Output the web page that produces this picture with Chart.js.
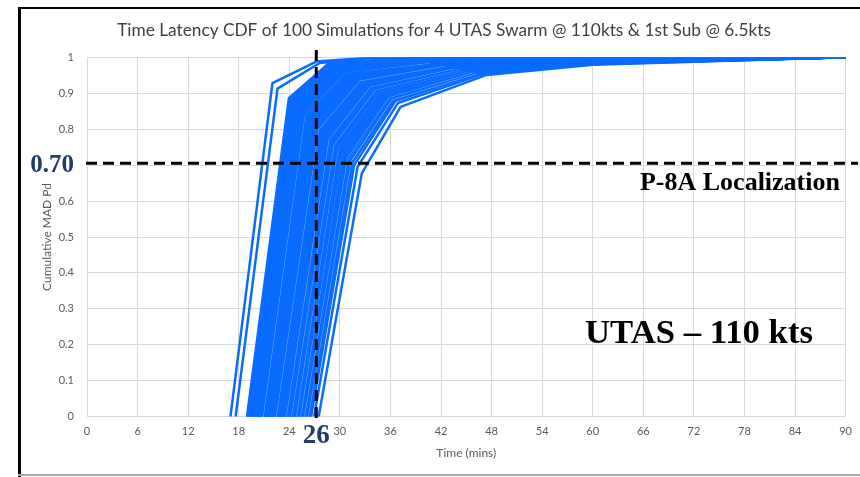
<!DOCTYPE html>
<html>
<head>
<meta charset="utf-8">
<script src="https://cdn.jsdelivr.net/npm/chart.js@4/dist/chart.umd.min.js"></script>
<style>
  html, body { margin: 0; padding: 0; background: #fff; }
</style>
</head>
<body>
<canvas id="chart" width="860" height="477"></canvas>
<script>
// One row per simulation (sorted by start time)
const startMin = [
  17.02, 17.63, 18.98, 19.05, 19.14, 19.22, 19.27, 19.38, 19.45, 19.51,
  19.6, 19.64, 19.73, 19.8, 19.89, 19.95, 20.01, 20.12, 20.16, 20.24,
  20.31, 20.4, 20.43, 20.52, 20.6, 20.63, 20.74, 20.8, 20.86, 20.97,
  21.02, 21.1, 21.19, 21.23, 21.33, 21.38, 21.47, 21.55, 21.58, 21.69,
  21.75, 21.81, 21.92, 21.97, 22.05, 22.13, 22.18, 22.29, 22.35, 22.41,
  22.5, 22.56, 22.64, 22.72, 22.79, 22.85, 22.96, 23.01, 23.09, 23.16,
  23.24, 23.31, 23.37, 23.48, 23.55, 23.6, 23.71, 23.77, 23.86, 23.92,
  24.03, 24.08, 24.17, 24.26, 24.31, 24.42, 24.49, 24.55, 24.66, 24.71,
  24.83, 24.9, 24.98, 25.09, 25.17, 25.24, 25.36, 25.43, 25.55, 25.63,
  25.74, 25.85, 25.96, 26.08, 26.19, 26.31, 26.45, 26.58, 26.93, 27.48
]
const kneeMin = [
  22.0, 22.6, 23.95, 24.1, 24.1, 24.25, 24.2, 24.4, 24.4, 24.55,
  24.55, 24.7, 24.7, 24.85, 24.85, 25.0, 24.95, 25.15, 25.1, 25.3,
  25.3, 25.45, 25.4, 25.55, 25.55, 25.7, 25.7, 25.85, 25.8, 26.0,
  25.95, 26.15, 26.15, 26.3, 26.3, 26.45, 26.4, 26.6, 26.55, 26.75,
  26.7, 26.9, 26.85, 27.05, 27.0, 27.2, 27.15, 27.35, 27.3, 27.5,
  27.45, 27.65, 27.6, 27.8, 27.75, 27.95, 27.9, 28.1, 28.05, 28.25,
  28.2, 28.4, 28.35, 28.55, 28.5, 28.7, 28.65, 28.85, 28.85, 29.0,
  29.0, 29.15, 29.15, 29.35, 29.3, 29.5, 29.5, 29.65, 29.65, 29.8,
  29.8, 30.0, 29.95, 30.2, 30.15, 30.35, 30.35, 30.55, 30.55, 30.75,
  30.75, 30.95, 30.95, 31.2, 31.2, 31.45, 31.5, 31.7, 32.1, 32.6
]
const kneePd = [
  0.928, 0.913, 0.886, 0.879, 0.882, 0.874, 0.878, 0.871, 0.875, 0.868,
  0.87, 0.864, 0.867, 0.86, 0.863, 0.857, 0.861, 0.853, 0.857, 0.851,
  0.853, 0.846, 0.85, 0.843, 0.846, 0.841, 0.843, 0.837, 0.84, 0.833,
  0.836, 0.83, 0.833, 0.826, 0.829, 0.823, 0.826, 0.819, 0.823, 0.815,
  0.819, 0.812, 0.815, 0.809, 0.812, 0.805, 0.809, 0.801, 0.805, 0.798,
  0.801, 0.795, 0.798, 0.791, 0.794, 0.788, 0.79, 0.784, 0.787, 0.78,
  0.783, 0.777, 0.78, 0.773, 0.776, 0.77, 0.772, 0.766, 0.769, 0.762,
  0.765, 0.758, 0.761, 0.754, 0.758, 0.75, 0.754, 0.747, 0.75, 0.743,
  0.746, 0.739, 0.742, 0.735, 0.738, 0.731, 0.733, 0.726, 0.729, 0.722,
  0.724, 0.717, 0.719, 0.712, 0.714, 0.706, 0.708, 0.7, 0.695, 0.677
]
const midMin = [
  27.2, 27.6, 28.8, 29.0, 28.9, 29.1, 29.1, 29.3, 29.2, 29.5,
  29.4, 29.6, 29.6, 29.8, 29.7, 29.9, 29.9, 30.1, 30.0, 30.2,
  30.2, 30.4, 30.3, 30.5, 30.4, 30.6, 30.6, 30.8, 30.7, 30.9,
  30.9, 31.1, 31.0, 31.2, 31.2, 31.4, 31.3, 31.5, 31.5, 31.7,
  31.6, 31.8, 31.8, 32.0, 31.9, 32.1, 32.1, 32.3, 32.2, 32.4,
  32.4, 32.6, 32.5, 32.7, 32.7, 32.9, 32.8, 33.0, 33.0, 33.2,
  33.1, 33.3, 33.3, 33.5, 33.4, 33.6, 33.6, 33.8, 33.8, 34.0,
  33.9, 34.1, 34.1, 34.3, 34.2, 34.4, 34.4, 34.6, 34.6, 34.8,
  34.8, 35.0, 34.9, 35.2, 35.1, 35.3, 35.3, 35.5, 35.5, 35.7,
  35.7, 35.9, 35.9, 36.1, 36.1, 36.4, 36.4, 36.6, 36.9, 37.2
]
const midPd = [
  0.988, 0.984, 0.986, 0.982, 0.984, 0.98, 0.983, 0.978, 0.981, 0.976,
  0.978, 0.974, 0.976, 0.972, 0.974, 0.97, 0.972, 0.968, 0.97, 0.966,
  0.968, 0.964, 0.966, 0.962, 0.964, 0.96, 0.962, 0.958, 0.96, 0.956,
  0.958, 0.954, 0.956, 0.952, 0.954, 0.95, 0.952, 0.948, 0.95, 0.946,
  0.948, 0.944, 0.946, 0.942, 0.944, 0.94, 0.942, 0.938, 0.94, 0.936,
  0.938, 0.934, 0.936, 0.932, 0.934, 0.93, 0.932, 0.928, 0.93, 0.926,
  0.927, 0.923, 0.925, 0.921, 0.923, 0.919, 0.921, 0.917, 0.919, 0.915,
  0.916, 0.912, 0.914, 0.91, 0.912, 0.908, 0.91, 0.906, 0.908, 0.904,
  0.904, 0.9, 0.902, 0.898, 0.9, 0.896, 0.897, 0.893, 0.895, 0.891,
  0.892, 0.888, 0.889, 0.885, 0.886, 0.882, 0.883, 0.879, 0.873, 0.862
]
const lateMin = [
  33.0, 33.5, 38.8, 39.1, 38.8, 39.2, 39.0, 39.4, 39.1, 39.6,
  39.4, 39.7, 39.5, 39.9, 39.6, 40.0, 39.8, 40.2, 39.9, 40.3,
  40.2, 40.5, 40.2, 40.6, 40.3, 40.7, 40.5, 40.9, 40.6, 41.0,
  40.9, 41.2, 40.9, 41.3, 41.1, 41.5, 41.2, 41.6, 41.4, 41.8,
  41.6, 41.9, 41.7, 42.1, 41.8, 42.2, 42.0, 42.4, 42.1, 42.5,
  42.4, 42.7, 42.4, 42.8, 42.6, 43.0, 42.7, 43.1, 42.9, 43.3,
  43.1, 43.4, 43.2, 43.6, 43.3, 43.7, 43.5, 43.9, 43.7, 44.1,
  43.9, 44.2, 44.0, 44.4, 44.1, 44.5, 44.3, 44.7, 44.5, 44.9,
  44.8, 45.1, 44.8, 45.3, 45.0, 45.4, 45.2, 45.6, 45.4, 45.8,
  45.7, 46.0, 45.8, 46.2, 46.0, 46.5, 46.3, 46.7, 47.0, 47.4
]
const latePd = [
  0.998, 0.998, 0.997, 0.997, 0.996, 0.996, 0.996, 0.995, 0.995, 0.994,
  0.994, 0.993, 0.993, 0.993, 0.992, 0.992, 0.991, 0.991, 0.991, 0.99,
  0.99, 0.989, 0.989, 0.988, 0.988, 0.988, 0.987, 0.987, 0.987, 0.986,
  0.986, 0.985, 0.985, 0.985, 0.984, 0.984, 0.983, 0.983, 0.983, 0.982,
  0.982, 0.981, 0.981, 0.981, 0.98, 0.98, 0.979, 0.979, 0.979, 0.978,
  0.978, 0.977, 0.977, 0.976, 0.976, 0.976, 0.975, 0.975, 0.975, 0.974,
  0.974, 0.973, 0.973, 0.972, 0.972, 0.972, 0.971, 0.971, 0.97, 0.97,
  0.969, 0.969, 0.969, 0.968, 0.968, 0.967, 0.967, 0.966, 0.966, 0.966,
  0.965, 0.965, 0.964, 0.964, 0.963, 0.963, 0.962, 0.962, 0.961, 0.961,
  0.96, 0.96, 0.959, 0.958, 0.958, 0.957, 0.956, 0.956, 0.954, 0.951
]
const pd60 = [
  1.0, 1.0, 0.999, 0.999, 0.999, 0.999, 0.999, 0.999, 0.999, 0.999,
  0.998, 0.998, 0.998, 0.998, 0.998, 0.998, 0.998, 0.997, 0.997, 0.997,
  0.997, 0.997, 0.997, 0.996, 0.996, 0.996, 0.996, 0.996, 0.996, 0.995,
  0.995, 0.995, 0.995, 0.995, 0.994, 0.994, 0.994, 0.994, 0.994, 0.994,
  0.993, 0.993, 0.993, 0.993, 0.993, 0.992, 0.992, 0.992, 0.992, 0.992,
  0.992, 0.991, 0.991, 0.991, 0.991, 0.991, 0.99, 0.99, 0.99, 0.99,
  0.99, 0.99, 0.99, 0.989, 0.989, 0.989, 0.989, 0.989, 0.988, 0.988,
  0.988, 0.988, 0.988, 0.987, 0.987, 0.987, 0.987, 0.987, 0.986, 0.986,
  0.986, 0.986, 0.986, 0.985, 0.985, 0.985, 0.985, 0.984, 0.984, 0.984,
  0.984, 0.983, 0.983, 0.983, 0.983, 0.982, 0.982, 0.982, 0.981, 0.979
]
const tailMin = 60
const endMin = 90
const endPd = 1

// simulations whose line shows a faint pale edge inside the bundle
const edgedSims = [26, 47, 63, 71, 78, 84, 89, 93]

// reference marks
const refPd = 0.705       // P-8A localization level (labelled 0.70)
const refMin = 27.2       // vertical marker (labelled 26)
const titleText = 'Time Latency CDF of 100 Simulations for 4 UTAS Swarm @ 110kts & 1st Sub @ 6.5kts'

const lineBlue = '#0a6cff'
const navy = '#203b6c'

function fitSize(ctx, text, width, weight, family) {
  ctx.font = `${weight} 100px ${family}`
  return 100 * width / ctx.measureText(text).width
}

const decor = {
  id: 'decor',
  beforeDraw(chart) {
    const { ctx, width, height } = chart
    ctx.save()
    ctx.fillStyle = '#fff'
    ctx.fillRect(0, 0, width, height)
    ctx.fillStyle = '#000'
    ctx.fillRect(18, 7, 3, height - 7)
    ctx.fillRect(18, 7, width - 18, 2)
    ctx.fillStyle = '#a6a6a6'
    ctx.fillRect(18, 474, width - 18, 2)
    ctx.restore()
  },
  beforeDatasetDraw(chart, args) {
    if (!edgedSims.includes(args.index)) return
    const { ctx, chartArea: a } = chart
    const pts = args.meta.data.slice(0, 4)
    ctx.save()
    ctx.beginPath()
    ctx.rect(a.left, a.top - 2, a.right - a.left, a.bottom - a.top + 4)
    ctx.clip()
    ctx.strokeStyle = 'rgba(255,255,255,0.45)'
    ctx.lineWidth = 3.4
    ctx.lineJoin = 'round'
    ctx.beginPath()
    pts.forEach((p, k) => k ? ctx.lineTo(p.x, p.y) : ctx.moveTo(p.x, p.y))
    ctx.stroke()
    ctx.restore()
  },
  afterDatasetsDraw(chart) {
    const { ctx, scales: { x, y } } = chart
    const py = y.getPixelForValue(refPd)
    const px = x.getPixelForValue(refMin)
    ctx.save()
    ctx.strokeStyle = '#000'
    ctx.lineWidth = 3
    ctx.setLineDash([11, 6])
    ctx.beginPath()
    ctx.moveTo(86, py)
    ctx.lineTo(858, py)
    ctx.stroke()
    ctx.beginPath()
    ctx.moveTo(px, 50)
    ctx.lineTo(px, y.getPixelForValue(0) + 2)
    ctx.stroke()
    ctx.setLineDash([])

    const serif = '"Liberation Serif", "DejaVu Serif", serif'
    ctx.textBaseline = 'alphabetic'

    ctx.fillStyle = navy
    ctx.textAlign = 'right'
    ctx.font = `bold 25px ${serif}`
    ctx.fillText('0.70', 74, py + 9)

    ctx.textAlign = 'center'
    ctx.font = `bold 27px ${serif}`
    ctx.fillText('26', px, 443)

    ctx.fillStyle = '#000'
    ctx.textAlign = 'left'
    let s = fitSize(ctx, 'P-8A Localization', 200, 'bold', serif)
    ctx.font = `bold ${s}px ${serif}`
    ctx.fillText('P-8A Localization', 640, 190)

    s = fitSize(ctx, 'UTAS \u2013 110 kts', 228, 'bold', serif)
    ctx.font = `bold ${s}px ${serif}`
    ctx.fillText('UTAS \u2013 110 kts', 585, 343)

    ctx.fillStyle = '#404040'
    ctx.textAlign = 'center'
    ctx.textBaseline = 'middle'
    s = fitSize(ctx, titleText, 654, 'normal', 'Lato')
    ctx.font = `normal ${s}px Lato`
    ctx.fillText(titleText, 444, 30)
    ctx.restore()
  }
}

const datasets = startMin.map((t0, i) => ({
  data: [
    { x: t0, y: 0 },
    { x: kneeMin[i], y: kneePd[i] },
    { x: midMin[i], y: midPd[i] },
    { x: lateMin[i], y: latePd[i] },
    { x: tailMin, y: pd60[i] },
    { x: endMin, y: endPd }
  ],
  borderColor: lineBlue,
  borderWidth: 2.5,
  borderJoinStyle: 'round',
  pointRadius: 0,
  fill: false,
  tension: 0
}))

const tickFont = { family: 'Lato', size: 11 }
const axisTitleFont = { family: 'Lato', size: 12 }

new Chart(document.getElementById('chart'), {
  type: 'line',
  data: { datasets },
  options: {
    responsive: false,
    animation: false,
    layout: { padding: { top: 57.3, right: 13.3, bottom: 0, left: 0 } },
    plugins: {
      legend: { display: false },
      tooltip: { enabled: false },
      title: { display: false }
    },
    scales: {
      x: {
        type: 'linear',
        min: 0,
        max: 90,
        ticks: { stepSize: 6, color: '#595959', font: tickFont, padding: 8, maxRotation: 0 },
        grid: { color: '#d9d9d9', drawTicks: false },
        border: { display: false },
        title: { display: true, text: 'Time (mins)', color: '#595959', font: axisTitleFont, padding: { top: 0, bottom: 17 } },
        afterFit: s => { s.height = 60.3 }
      },
      y: {
        min: 0,
        max: 1,
        ticks: {
          stepSize: 0.1, color: '#595959', font: tickFont, padding: 13,
          // the 0.7 label sits under the 0.70 call-out
          callback: v => Math.round(v * 10) === 7 ? '' : Math.round(v * 10) / 10
        },
        grid: { color: '#d9d9d9', drawTicks: false },
        border: { display: false },
        title: { display: true, text: 'Cumulative MAD Pd', color: '#595959', font: axisTitleFont, padding: { top: 40, bottom: 0 } },
        afterFit: s => { s.width = 87 }
      }
    }
  },
  plugins: [decor]
})
</script>
</body>
</html>
